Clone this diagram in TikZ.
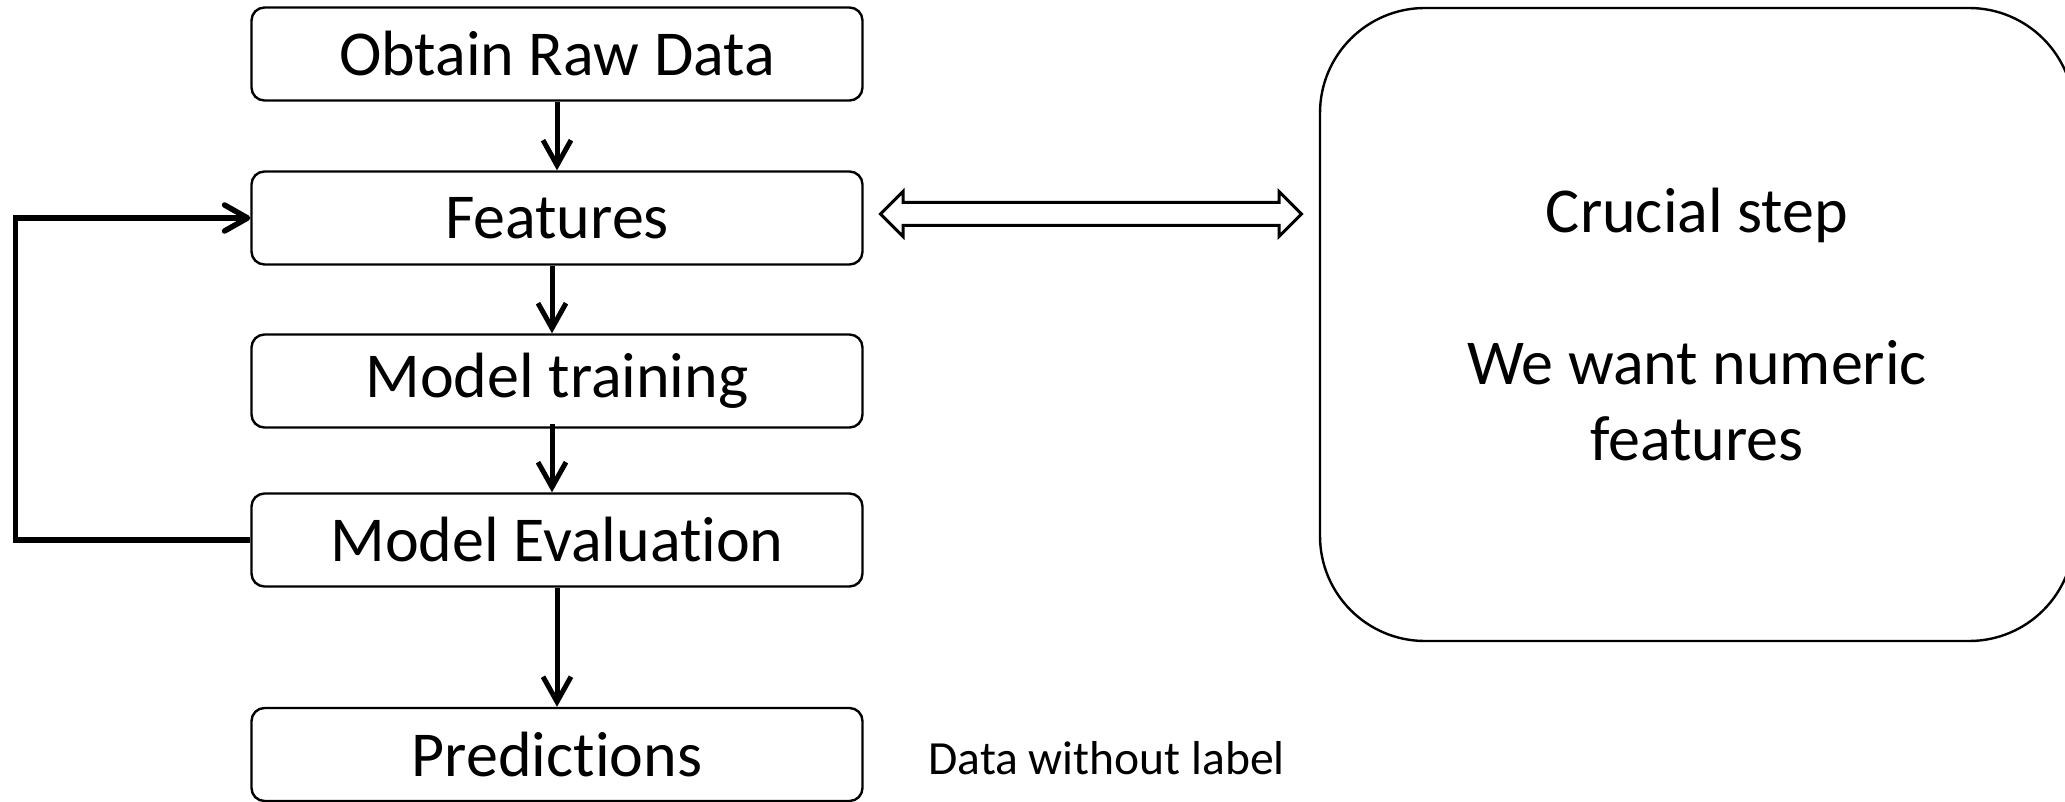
\documentclass[tikz,border=0pt]{standalone}
\usepackage{fontspec}
\setmainfont{Carlito}[Ligatures={NoCommon}]
\usetikzlibrary{arrows.meta}
\begin{document}
\begin{tikzpicture}[x=0.5pt,y=-0.5pt,
  stage/.style={draw, line width=1.2pt, rounded corners=6.5pt,
    minimum width=305.5pt, minimum height=46.5pt, inner sep=0pt,
    font=\fontsize{32pt}{38pt}\selectfont},
  panel/.style={draw, line width=1.2pt, rounded corners=52.5pt,
    minimum width=377pt, minimum height=316.5pt, inner sep=0pt, align=center,
    font=\fontsize{32pt}{38pt}\selectfont},
  note/.style={inner sep=0pt, anchor=west, font=\fontsize{23.8pt}{28pt}\selectfont},
  flow/.style={line width=2.5pt, -{Straight Barb[length=12.5pt,width=14pt]}},
  loopback/.style={line width=2.75pt, line join=miter,
    -{Straight Barb[length=11.5pt,width=13pt,round]}},
  hollow/.style={draw, line width=1.5pt, line join=miter, fill=white}
]
\useasboundingbox (0,0) rectangle (2065,802);

% pipeline stages
\node[stage] (raw)   at (557,54)    {Obtain Raw Data};
\node[stage] (feat)  at (557,218)   {Features};
\node[stage] (train) at (557,381)   {Model training};
\node[stage] (eval)  at (557,540)   {Model Evaluation};
\node[stage] (pred)  at (557,754.5) {Predictions};

% side panel and annotation
\node[panel] (info) at (1697,324.5) {Crucial step\\[38pt]We want numeric\\features};
\node[note] (nolabel) at (928,758) {Data without label};

% forward flow
\draw[flow] (raw.south) -- (feat.north);
\draw[flow] ([xshift=-2.5pt]feat.south) -- ([xshift=-2.5pt]train.north);
\draw[flow] ([xshift=-2.5pt,yshift=2.5pt]train.south) -- ([xshift=-2.5pt]eval.north);
\draw[flow] (eval.south) -- (pred.north);

% feedback loop from evaluation back to features
\coordinate (bend) at (15.5,0);
\draw[loopback] (eval.west) -- (eval.west -| bend) |- (feat.west);

% two-headed hollow arrow between features and the panel
\draw[hollow] (880.5,214) -- (903,191.5) -- (903,202.5) -- (1279,202.5)
  -- (1279,191.5) -- (1301.5,214) -- (1279,236.5) -- (1279,225.5)
  -- (903,225.5) -- (903,236.5) -- cycle;
\end{tikzpicture}
\end{document}
